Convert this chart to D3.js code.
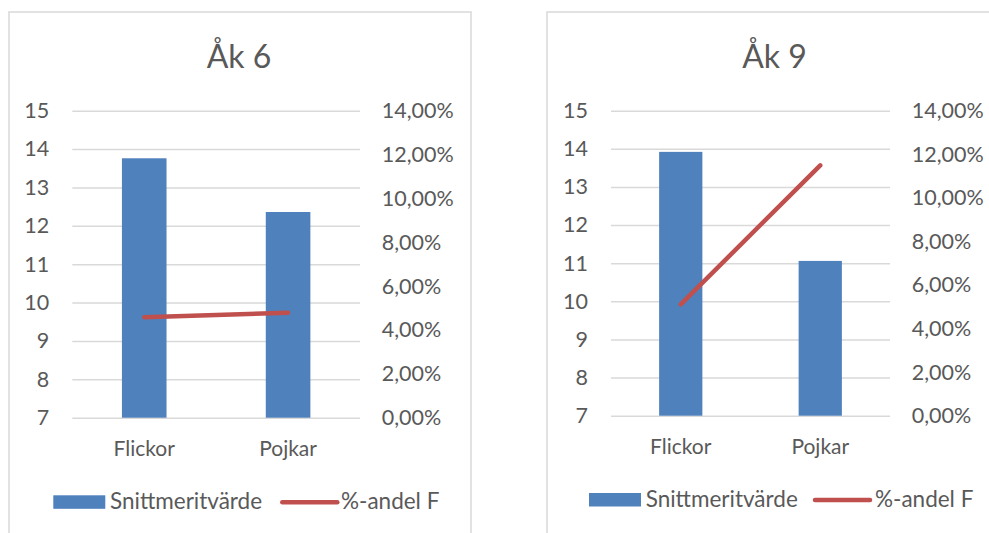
<!DOCTYPE html>
<html>
<head>
<meta charset="utf-8">
<script src="https://cdn.jsdelivr.net/npm/d3@7"></script>
<style>
  body { margin: 0; background: #fff; }
  svg text { font-family: Lato, "Open Sans", sans-serif; fill: #595959; }
</style>
</head>
<body>
<div id="chart"></div>
<script>
var categories = ["Flickor", "Pojkar"];
var seriesNames = ["Snittmeritvärde", "%-andel F"];
var titles = ["Åk 6", "Åk 9"];
var ak6Merit = [13.76, 12.36];
var ak6Andel = [0.0458, 0.0479];
var ak9Merit = [13.92, 11.06];
var ak9Andel = [0.0511, 0.1149];
var leftTicks = [7, 8, 9, 10, 11, 12, 13, 14, 15];
var rightTicks = [0, 0.02, 0.04, 0.06, 0.08, 0.10, 0.12, 0.14];

var barColor = "#4f81bd";
var lineColor = "#c0504d";
var gridColor = "#d9d9d9";

var width = 989, height = 533;

var sv = d3.formatLocale({ decimal: ",", thousands: " ", grouping: [3], currency: ["", " kr"] });
var pct = sv.format(".2%");

var svg = d3.select("#chart")
    .append("svg")
    .attr("width", width)
    .attr("height", height);

// layout of each panel
var panels = [
    { title: titles[0], merit: ak6Merit, andel: ak6Andel,
      frameX: 9, x0: 72.3, x1: 360, yTop: 110.7, yBot: 417.7, titleX: 239, labelY: 456,
      legendX: 53.3, legendY: 495.3, lineX: 282.3, lineText: 341 },
    { title: titles[1], merit: ak9Merit, andel: ak9Andel,
      frameX: 547, x0: 611, x1: 890, yTop: 110.7, yBot: 415.7, titleX: 774.5, labelY: 454,
      legendX: 589, legendY: 493, lineX: 815, lineText: 875 }
];

panels.forEach(drawPanel);

function drawPanel(p) {
    var g = svg.append("g");

    g.append("rect")
        .attr("x", p.frameX)
        .attr("y", 12)
        .attr("width", 462)
        .attr("height", 560)
        .attr("fill", "none")
        .attr("stroke", gridColor)
        .attr("stroke-width", 1.5);

    g.append("text")
        .attr("x", p.titleX)
        .attr("y", 67.7)
        .attr("text-anchor", "middle")
        .attr("font-size", "32px")
        .text(p.title);

    var x = d3.scaleBand()
        .domain(categories)
        .range([p.x0, p.x1])
        .paddingInner(0.69)
        .paddingOuter(0.345);

    var y = d3.scaleLinear().domain([7, 15]).range([p.yBot, p.yTop]);
    var y2 = d3.scaleLinear().domain([0, 0.14]).range([p.yBot, p.yTop]);

    // gridlines
    var grid = g.append("g")
        .attr("transform", `translate(${p.x0},0)`)
        .call(d3.axisLeft(y).tickValues(leftTicks).tickSize(-(p.x1 - p.x0)).tickFormat(""));
    grid.select(".domain").remove();
    grid.selectAll("line").attr("stroke", gridColor).attr("stroke-width", 1.5);

    var yAxis = g.append("g")
        .attr("transform", `translate(${p.x0},0)`)
        .call(d3.axisLeft(y).tickValues(leftTicks).tickSize(0).tickPadding(23));
    yAxis.select(".domain").remove();
    yAxis.selectAll("text").attr("font-size", "21.5px").attr("font-family", null).attr("fill", null);

    var yAxis2 = g.append("g")
        .attr("transform", `translate(${p.x1},0)`)
        .call(d3.axisRight(y2).tickValues(rightTicks).tickSize(0).tickPadding(21.7).tickFormat(pct));
    yAxis2.select(".domain").remove();
    yAxis2.selectAll("text").attr("font-size", "21.5px").attr("font-family", null).attr("fill", null);

    g.selectAll(".bar")
        .data(categories)
        .enter()
        .append("rect")
        .attr("class", "bar")
        .attr("x", d => x(d))
        .attr("width", x.bandwidth())
        .attr("y", (d, i) => y(p.merit[i]))
        .attr("height", (d, i) => y(7) - y(p.merit[i]))
        .attr("fill", barColor);

    var line = d3.line()
        .x((d, i) => x(categories[i]) + x.bandwidth() / 2)
        .y(d => y2(d));

    g.append("path")
        .datum(p.andel)
        .attr("d", line)
        .attr("fill", "none")
        .attr("stroke", lineColor)
        .attr("stroke-width", 4.5)
        .attr("stroke-linecap", "round");

    g.selectAll(".xlabel")
        .data(categories)
        .enter()
        .append("text")
        .attr("class", "xlabel")
        .attr("x", d => x(d) + x.bandwidth() / 2)
        .attr("y", p.labelY)
        .attr("text-anchor", "middle")
        .attr("font-size", "21px")
        .text(d => d);

    // legend
    g.append("rect")
        .attr("x", p.legendX)
        .attr("y", p.legendY)
        .attr("width", 52)
        .attr("height", 13.5)
        .attr("fill", barColor);

    g.append("text")
        .attr("x", p.legendX + 56.7)
        .attr("y", p.legendY + 13.6)
        .attr("font-size", "22.5px")
        .text(seriesNames[0]);

    g.append("line")
        .attr("x1", p.lineX)
        .attr("x2", p.lineX + 55)
        .attr("y1", p.legendY + 7)
        .attr("y2", p.legendY + 7)
        .attr("stroke", lineColor)
        .attr("stroke-width", 4.5)
        .attr("stroke-linecap", "round");

    g.append("text")
        .attr("x", p.lineText)
        .attr("y", p.legendY + 13.6)
        .attr("font-size", "22.5px")
        .text(seriesNames[1]);
}
</script>
</body>
</html>
